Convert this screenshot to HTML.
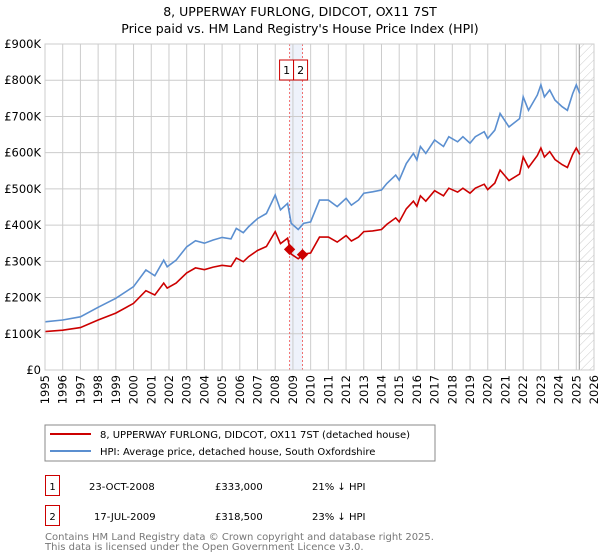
<!DOCTYPE html>
<html><head><meta charset="utf-8"><style>
body{margin:0;background:#fff}
svg{display:block;font-family:"DejaVu Sans","Liberation Sans",sans-serif}
</style></head><body>
<svg id="c" width="600" height="560" xmlns="http://www.w3.org/2000/svg">
<text x="300" y="16" text-anchor="middle" font-size="12.5">8, UPPERWAY FURLONG, DIDCOT, OX11 7ST</text>
<text x="300" y="33" text-anchor="middle" font-size="12.5">Price paid vs. HM Land Registry's House Price Index (HPI)</text>
<g id="grid"></g>
<g id="series"></g>
<g id="axes"></g>
<rect x="45" y="425" width="390" height="36" fill="none" stroke="#888"/>
<line x1="50" y1="434" x2="91" y2="434" stroke="#cc0000" stroke-width="2"/>
<text x="100" y="438" font-size="10">8, UPPERWAY FURLONG, DIDCOT, OX11 7ST (detached house)</text>
<line x1="50" y1="451" x2="91" y2="451" stroke="#5b8fd0" stroke-width="2"/>
<text x="100" y="455" font-size="10">HPI: Average price, detached house, South Oxfordshire</text>
<g font-size="10">
<rect x="45.5" y="475.5" width="14" height="20" fill="none" stroke="#cc0000"/>
<text x="52.5" y="490" text-anchor="middle">1</text>
<text x="89" y="490">23-OCT-2008</text>
<text x="215" y="490">£333,000</text>
<text x="312" y="490">21% ↓ HPI</text>
<rect x="45.5" y="505.5" width="14" height="20" fill="none" stroke="#cc0000"/>
<text x="52.5" y="520" text-anchor="middle">2</text>
<text x="94" y="520">17-JUL-2009</text>
<text x="215" y="520">£318,500</text>
<text x="312" y="520">23% ↓ HPI</text>
</g>
<text x="45" y="540" font-size="10" fill="#777">Contains HM Land Registry data © Crown copyright and database right 2025.</text>
<text x="45" y="550" font-size="10" fill="#777">This data is licensed under the Open Government Licence v3.0.</text>
</svg>
<script>
const hpiYears=[1995,1996,1997,1998,1999,2000,2000.7,2001.2,2001.7,2001.9,2002.4,2003,2003.5,2004,2004.5,2005,2005.5,2005.8,2006.2,2006.5,2007,2007.5,2008,2008.3,2008.7,2008.9,2009.3,2009.6,2010,2010.5,2011,2011.5,2012,2012.3,2012.7,2013,2013.5,2014,2014.3,2014.8,2015,2015.4,2015.8,2016,2016.2,2016.5,2017,2017.5,2017.8,2018.3,2018.6,2019,2019.3,2019.8,2020,2020.4,2020.7,2021.2,2021.8,2022,2022.3,2022.8,2023,2023.2,2023.5,2023.8,2024.2,2024.5,2024.8,2025,2025.2];
const hpiValues=[133,138,147,173,198,230,276,260,303,285,303,340,357,350,359,366,362,391,379,396,418,432,483,442,460,405,388,405,409,469,469,451,474,455,469,488,492,497,515,538,524,570,598,580,617,598,635,617,644,630,644,626,644,658,639,662,708,671,694,754,717,759,787,754,773,745,727,717,763,787,763];
const priceValues=[106,110,117,138,157,184,219,207,240,226,240,268,282,277,284,289,286,309,299,313,330,341,382,349,364,320,307,320,323,367,367,353,371,356,367,382,384,388,402,420,409,445,466,452,481,466,495,481,502,491,502,488,502,513,498,516,552,523,541,588,559,592,613,588,603,581,567,559,595,613,595];
const saleYears=[2008.81,2009.54];
const saleValues=[333,318.5];
const yTicks=[0,100,200,300,400,500,600,700,800,900];
const yTickLabels=["£0","£100K","£200K","£300K","£400K","£500K","£600K","£700K","£800K","£900K"];
const xTicks=[1995,1996,1997,1998,1999,2000,2001,2002,2003,2004,2005,2006,2007,2008,2009,2010,2011,2012,2013,2014,2015,2016,2017,2018,2019,2020,2021,2022,2023,2024,2025,2026];
const dataEnd=2025.17;
const NS="http://www.w3.org/2000/svg";
const L=45,R=594,T=44,B=370;
const xs=y=>L+(y-1995)/(2026-1995)*(R-L);
const ys=v=>B-v/900*(B-T);
function mk(tag,attrs,parent){const e=document.createElementNS(NS,tag);for(const k in attrs)e.setAttribute(k,attrs[k]);parent.appendChild(e);return e;}
const grid=document.getElementById('grid'),ser=document.getElementById('series'),ax=document.getElementById('axes');
let band=mk('rect',{x:xs(saleYears[0]),y:T,width:xs(saleYears[1])-xs(saleYears[0]),height:B-T,fill:'#eef2fb'},grid);


const defs=mk('defs',{},grid);
const pat=mk('pattern',{id:'h',width:6,height:6,patternUnits:'userSpaceOnUse',patternTransform:'rotate(45)'},defs);
mk('line',{x1:0,y1:0,x2:0,y2:6,stroke:'#ccc','stroke-width':1},pat);
let hat=mk('rect',{x:xs(dataEnd),y:T,width:R-xs(dataEnd),height:B-T,fill:'url(#h)'},grid);


yTicks.forEach((v,i)=>{
 let g=mk('line',{x1:L,x2:R,y1:ys(v),y2:ys(v),stroke:'#ccc'},grid);
 
 
 let t=mk('text',{x:L-4,y:ys(v)+4,'text-anchor':'end','font-size':11.5},ax);
 t.textContent=yTickLabels[i];
 
 
});
xTicks.forEach(y=>{
 let g=mk('line',{x1:xs(y),x2:xs(y),y1:T,y2:B,stroke:'#ccc'},grid);
 
 
 let t=mk('text',{x:0,y:0,'text-anchor':'end','font-size':11.5,transform:`translate(${xs(y)+4},${B+5}) rotate(-90)`},ax);
 t.textContent=y;
 
 
});
let endLine=mk('line',{x1:xs(dataEnd),x2:xs(dataEnd),y1:T,y2:B,stroke:'#999'},grid);


saleYears.forEach((y,i)=>{
 let l=mk('line',{x1:xs(y),x2:xs(y),y1:T,y2:B,stroke:'#f07070','stroke-dasharray':'2,2'},grid);
 
 
 let bx=xs(saleYears[0])-10+i*14;
 let r=mk('rect',{x:bx,y:60,width:14,height:20,fill:'#fff',stroke:'#cc0000'},ax);
 
 
 let t=mk('text',{x:bx+7,y:74,'text-anchor':'middle','font-size':11},ax);
 t.textContent=String(i+1);
 
 
});
function path(xv,yv,color,name){
 let d=xv.map((x,i)=>(i?'L':'M')+xs(x).toFixed(1)+','+ys(yv[i]).toFixed(1)).join('');
 let p=mk('path',{d:d,fill:'none',stroke:color,'stroke-width':1.6},ser);
 
 
}
path(hpiYears,hpiValues,'#5b8fd0','hpi-line');
path(hpiYears,priceValues,'#cc0000','price-paid-line');
saleYears.forEach((y,i)=>{
 let c=mk('rect',{x:xs(y)-4,y:ys(saleValues[i])-4,width:8,height:8,fill:'#cc0000',transform:`rotate(45 ${xs(y)} ${ys(saleValues[i])})`},ser);
 
 
});
let frame=mk('rect',{x:L,y:T,width:R-L,height:B-T,fill:'none',stroke:'#ccc'},ax);


</script>
</body></html>
